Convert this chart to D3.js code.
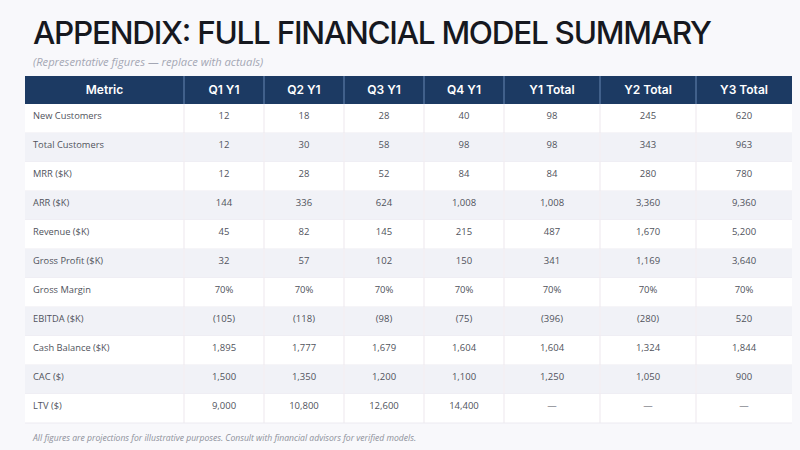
<!DOCTYPE html>
<html>
<head>
<meta charset="utf-8">
<script src="https://cdn.jsdelivr.net/npm/d3@7"></script>
<style>
  html, body { margin: 0; padding: 0; background: #f8f8fb; }
  svg { display: block; }
</style>
</head>
<body>
<svg id="chart" width="800" height="450"></svg>
<script>
/* ---- data ---- */
const columns = ['Metric', 'Q1 Y1', 'Q2 Y1', 'Q3 Y1', 'Q4 Y1', 'Y1 Total', 'Y2 Total', 'Y3 Total'];
const metrics = ['New Customers', 'Total Customers', 'MRR ($K)', 'ARR ($K)', 'Revenue ($K)',
  'Gross Profit ($K)', 'Gross Margin', 'EBITDA ($K)', 'Cash Balance ($K)', 'CAC ($)', 'LTV ($)'];

const newCustomers   = [12, 18, 28, 40, 98, 245, 620];
const totalCustomers = [12, 30, 58, 98, 98, 343, 963];
const mrr            = [12, 28, 52, 84, 84, 280, 780];
const arr            = [144, 336, 624, 1008, 1008, 3360, 9360];
const revenue        = [45, 82, 145, 215, 487, 1670, 5200];
const grossProfit    = [32, 57, 102, 150, 341, 1169, 3640];
const grossMargin    = [0.70, 0.70, 0.70, 0.70, 0.70, 0.70, 0.70];
const ebitda         = [-105, -118, -98, -75, -396, -280, 520];
const cashBalance    = [1895, 1777, 1679, 1604, 1604, 1324, 1844];
const cac            = [1500, 1350, 1200, 1100, 1250, 1050, 900];
const ltv            = [9000, 10800, 12600, 14400, null, null, null];

const series = [newCustomers, totalCustomers, mrr, arr, revenue, grossProfit,
  grossMargin, ebitda, cashBalance, cac, ltv];

/* ---- formatting ---- */
const fmtNum = d3.format(',');
const fmtPct = d3.format('.0%');
const fmt = (v, metric) => {
  if (v == null) return '\u2014';
  if (metric === 'Gross Margin') return fmtPct(v);
  return v < 0 ? `(${fmtNum(-v)})` : fmtNum(v);
};

/* ---- layout ---- */
const svg = d3.select('#chart');
const left = 25, right = 792, headTop = 76, headH = 28, bodyBottom = 423;
const colW = [159, 80, 80, 80, 80, 96, 96, 96];
const colX = d3.cumsum([0].concat(colW)).map(d => left + d * (right - left) / d3.sum(colW));

const y = d3.scaleBand().domain(metrics).range([headTop + headH, bodyBottom]);

svg.append('text')
  .attr('x', 33).attr('y', 43.5)
  .attr('textLength', 679).attr('lengthAdjust', 'spacing')
  .style('font-family', 'Inter, sans-serif').style('font-weight', 500)
  .style('font-size', '31.5px').style('fill', '#16181f')
  .text('APPENDIX: FULL FINANCIAL MODEL SUMMARY');

svg.append('text')
  .attr('x', 33).attr('y', 65.5)
  .style('font-family', '"Open Sans", sans-serif').style('font-style', 'italic')
  .style('font-size', '11.2px').style('fill', '#a4a7b4')
  .text('(Representative figures \u2014 replace with actuals)');

/* header */
svg.append('rect')
  .attr('x', left).attr('y', headTop).attr('width', right - left).attr('height', headH)
  .attr('fill', '#1c3a63');

const head = svg.append('g');
head.selectAll('line').data(columns.slice(1)).join('line')
  .attr('x1', (d, i) => colX[i + 1]).attr('x2', (d, i) => colX[i + 1])
  .attr('y1', headTop).attr('y2', headTop + headH)
  .attr('stroke', '#5b7ba6').attr('stroke-width', 1.2);
head.selectAll('text').data(columns).join('text')
  .attr('x', (d, i) => (colX[i] + colX[i + 1]) / 2)
  .attr('y', headTop + headH / 2 + 4.3)
  .attr('text-anchor', 'middle')
  .style('font-family', 'Inter, sans-serif').style('font-weight', 600)
  .style('font-size', '12px').style('fill', '#ffffff')
  .text(d => d);

/* body */
const rows = svg.append('g').selectAll('g.row').data(metrics).join('g')
  .attr('class', 'row')
  .attr('transform', d => `translate(0,${y(d)})`);

rows.append('rect')
  .attr('x', left).attr('width', right - left).attr('height', y.bandwidth())
  .attr('fill', (d, i) => i % 2 ? '#f1f2f7' : '#ffffff');

rows.selectAll('line.sep').data(columns.slice(1)).join('line')
  .attr('class', 'sep')
  .attr('x1', (d, i) => colX[i + 1]).attr('x2', (d, i) => colX[i + 1])
  .attr('y1', 0).attr('y2', y.bandwidth())
  .attr('stroke', '#f3eff3').attr('stroke-width', 1.5);

rows.append('line')
  .attr('x1', left).attr('x2', right)
  .attr('y1', y.bandwidth()).attr('y2', y.bandwidth())
  .attr('stroke', '#eceaf1').attr('stroke-width', 1);

rows.append('text')
  .attr('x', 33).attr('y', 14.5)
  .style('font-family', '"Open Sans", sans-serif')
  .style('font-size', '9.3px').style('fill', '#50535c')
  .text(d => d);

rows.selectAll('text.val').data(d => series[metrics.indexOf(d)].map(v => ({v, m: d}))).join('text')
  .attr('class', 'val')
  .attr('x', (d, i) => (colX[i + 1] + colX[i + 2]) / 2)
  .attr('y', 14.5)
  .attr('text-anchor', 'middle')
  .style('font-family', '"Open Sans", sans-serif')
  .style('font-size', '9.5px').style('fill', '#50535c')
  .text(d => fmt(d.v, d.m));

svg.append('text')
  .attr('x', 33).attr('y', 441)
  .style('font-family', '"Open Sans", sans-serif').style('font-style', 'italic')
  .style('font-size', '8.6px').style('fill', '#8d909a')
  .text('All figures are projections for illustrative purposes. Consult with financial advisors for verified models.');
</script>
</body>
</html>
